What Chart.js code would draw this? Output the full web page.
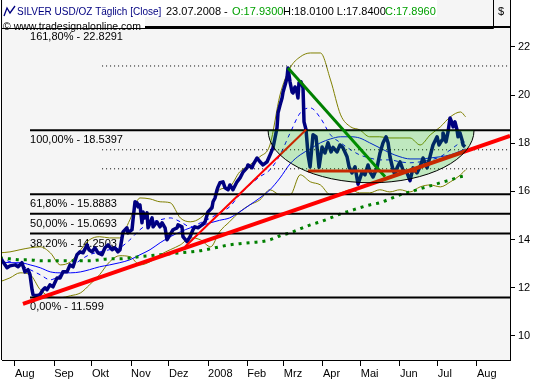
<!DOCTYPE html>
<html>
<head>
<meta charset="utf-8">
<script src="https://cdn.jsdelivr.net/npm/chart.js@4.4.1/dist/chart.umd.min.js"></script>
<style>
  html, body { margin: 0; padding: 0; background: #fff; }
  #wrap { width: 540px; height: 380px; }
</style>
</head>
<body>
<div id="wrap"><canvas id="chart" width="540" height="380"></canvas></div>
<script>
// x values are calendar days counted from 1 Aug 2007
const monthDays = [0, 31, 61, 92, 122, 153, 184, 213, 244, 274, 305, 335, 366];
const monthLabels = ["Aug", "Sep", "Okt", "Nov", "Dez", "2008", "Feb", "Mrz", "Apr", "Mai", "Jun", "Jul", "Aug"];
const yTicks = [10, 12, 14, 16, 18, 20, 22];

const priceDays = [
  -12, -9.5, -6.3, -4, 0, 2.4, 5.5, 7.9, 10.3, 11.9,
  13.5, 14.3, 17.4, 19.8, 22.2, 23.8, 25.4, 27.7, 30.1, 33.3,
  35.7, 38.0, 41.2, 43.6, 46.0, 49.1, 51.5, 53.9, 57.1, 58.6,
  61.0, 63.4, 65.8, 68.9, 71.3, 73.7, 76.9, 79.2, 81.6, 83.2,
  85.6, 88.7, 89.5, 92.7, 93.5, 95.1, 96.7, 97.5, 99.0, 100.6,
  101.4, 103.0, 104.6, 105.4, 108.6, 109.4, 112.5, 114.9, 116.5, 118.9,
  120.4, 122.8, 125.2, 128.4, 129.2, 132.3, 133.1, 136.3, 138.7, 141.0,
  142.6, 145.0, 148.2, 150.6, 152.9, 156.1, 156.9, 158.5, 160.1, 160.9,
  162.4, 164.8, 166.4, 168.8, 170.3, 172.7, 175.9, 178.3, 180.7, 183.8,
  184.6, 187.8, 188.6, 191.8, 194.1, 196.5, 199.7, 202.1, 204.4, 206.0,
  207.6, 208.4, 210.0, 211.6, 212.4, 214.0, 215.5, 216.3, 217.9, 219.5,
  220.3, 221.9, 223.5, 224.2, 225.0, 226.6, 228.2, 229.0, 230.6, 232.2,
  233.8, 236.1, 238.5, 240.9, 243.3, 245.6, 248.0, 250.4, 252.0, 255.1,
  257.5, 259.9, 263.1, 264.7, 267.0, 269.4, 271.8, 275.0, 277.3, 279.7,
  281.3, 283.7, 286.8, 289.2, 291.6, 294.0, 295.6, 297.1, 299.5, 301.1,
  302.7, 305.1, 307.4, 310.6, 313.0, 315.4, 318.5, 320.9, 323.3, 326.5,
  328.8, 331.2, 334.4, 336.0, 338.4, 339.1, 341.5, 343.1, 344.7, 346.3,
  347.1, 348.6, 350.2, 351.0, 352.6, 354.2, 355.0, 356.6
];
const close = [
  13.24, 13.08, 12.83, 12.91, 12.95, 12.87, 13.04, 12.66, 12.75, 12.54,
  11.92, 11.71, 11.67, 11.71, 11.92, 12.00, 11.92, 12.12, 12.04, 12.41,
  12.41, 12.66, 12.66, 12.95, 12.87, 13.37, 13.49, 13.45, 13.78, 13.58,
  13.49, 13.66, 13.45, 13.37, 13.66, 13.78, 13.58, 13.66, 13.49, 13.58,
  14.32, 14.49, 14.28, 14.41, 14.82, 15.57, 15.53, 15.36, 15.44, 14.70,
  15.15, 14.90, 15.11, 14.49, 14.90, 14.53, 14.74, 14.53, 14.70, 14.49,
  13.99, 14.20, 14.41, 14.49, 14.61, 14.53, 14.12, 13.91, 14.12, 14.41,
  14.53, 14.49, 14.61, 14.74, 15.15, 15.32, 15.57, 15.73, 16.07, 16.19,
  16.36, 16.40, 16.15, 16.07, 16.27, 16.07, 16.40, 16.56, 16.81, 16.98,
  17.10, 16.98, 17.10, 17.39, 17.23, 17.10, 17.23, 17.52, 17.81, 18.22,
  18.64, 19.26, 19.59, 19.88, 20.13, 20.42, 20.71, 21.13, 20.55, 20.13,
  20.09, 20.34, 20.09, 19.88, 20.51, 20.55, 20.30, 18.89, 18.56, 17.52,
  17.02, 18.35, 18.27, 17.00, 17.85, 17.60, 18.02, 17.64, 17.83, 17.64,
  17.93, 17.81, 17.44, 17.02, 16.77, 17.02, 16.30, 16.81, 16.69, 17.10,
  16.81, 16.60, 16.98, 17.60, 18.02, 18.27, 18.02, 17.44, 16.90, 16.69,
  16.98, 17.23, 16.90, 16.77, 16.45, 16.98, 16.77, 17.02, 17.39, 16.98,
  17.44, 17.93, 18.27, 17.93, 18.14, 18.43, 18.06, 18.47, 19.05, 18.85,
  18.68, 18.89, 18.56, 18.27, 18.43, 18.14, 17.93, 17.85
];

// indicator curves, read at these days
const maDays = [
  -12, -4, 4, 12, 20, 28, 36, 44, 52, 59,
  67, 75, 83, 91, 99, 107, 115, 123, 131, 139,
  147, 155, 162, 170, 178, 186, 194, 202, 210, 218,
  226, 234, 242, 250, 258, 266, 273, 281, 289, 297,
  305, 313, 321, 329, 337, 345, 353, 357
];
const maSlow = [
  13.08, 13.04, 13.04, 12.95, 12.83, 12.66, 12.62, 12.62, 12.66, 12.75,
  12.87, 12.95, 13.04, 13.16, 13.37, 13.58, 13.87, 14.12, 14.32, 14.49,
  14.57, 14.70, 14.80, 14.90, 15.15, 15.44, 15.73, 16.07, 16.56, 17.15,
  17.52, 17.77, 18.02, 18.18, 18.27, 18.27, 18.22, 18.02, 17.81, 17.60,
  17.44, 17.35, 17.35, 17.39, 17.44, 17.52, 17.68, 17.77
];
const maFast = [
  13.24, 13.08, 12.95, 12.75, 12.54, 12.33, 12.54, 12.83, 13.16, 13.37,
  13.49, 13.58, 13.66, 13.99, 14.41, 14.70, 14.82, 14.90, 14.74, 14.53,
  14.70, 14.90, 15.11, 15.36, 15.86, 16.27, 16.61, 16.90, 17.52, 18.43,
  19.26, 19.47, 19.05, 18.35, 18.02, 17.73, 17.52, 17.39, 17.31, 17.31,
  17.23, 17.19, 17.23, 17.31, 17.44, 17.73, 18.02, 18.06
];
const ma200 = [
  13.24, 13.20, 13.16, 13.16, 13.12, 13.12, 13.12, 13.12, 13.12, 13.12,
  13.16, 13.20, 13.20, 13.24, 13.29, 13.33, 13.37, 13.41, 13.45, 13.49,
  13.54, 13.62, 13.70, 13.78, 13.83, 13.87, 13.91, 13.99, 14.16, 14.28,
  14.45, 14.61, 14.74, 14.90, 15.07, 15.20, 15.32, 15.44, 15.53, 15.69,
  15.86, 15.98, 16.11, 16.23, 16.36, 16.48, 16.61, 16.65
];
const bandUp = [
  13.45, 13.49, 13.58, 13.66, 13.70, 13.45, 12.95, 13.08, 13.58, 13.99,
  14.12, 14.07, 14.07, 14.82, 15.73, 15.69, 15.57, 15.53, 14.90, 14.74,
  14.90, 15.36, 16.07, 16.19, 16.81, 17.10, 17.44, 17.93, 20.01, 21.13,
  21.59, 21.75, 21.75, 20.63, 19.18, 18.68, 18.56, 18.27, 18.27, 18.22,
  18.22, 18.22, 17.93, 18.35, 18.68, 19.10, 19.30, 19.10
];
const bandLow = [
  12.25, 12.41, 12.62, 12.54, 11.92, 11.63, 11.59, 11.67, 11.79, 12.12,
  12.54, 13.08, 13.33, 13.29, 12.95, 13.08, 13.37, 13.58, 13.78, 14.07,
  13.99, 13.70, 14.32, 14.74, 15.15, 15.44, 15.65, 16.07, 15.86, 15.86,
  16.69, 16.40, 16.27, 15.86, 15.94, 16.07, 15.94, 15.94, 16.07, 15.98,
  16.07, 15.98, 16.19, 16.27, 16.19, 16.40, 16.69, 16.90
];

// drawing tools
const fibValues = [22.8291, 18.5397, 15.8883, 15.0693, 14.2503, 11.599];
const fibLabels = ["161,80% - 22.8291", "100,00% - 18.5397", "61,80% - 15.8883",
                   "50,00% - 15.0693", "38,20% - 14.2503", "0,00% - 11.599"];
const fibStartDay = 11.9;
const dotLevels = [21.21, 17.73, 16.94];
const dotStartDay = 69;
const longTrendDays = [6.3, 392.2],   longTrendValues = [11.33, 18.31];
const shortTrendDays = [134.7, 230.6], shortTrendValues = [13.70, 18.56];
const downTrendDays = [216.3, 293.2],  downTrendValues = [21.13, 16.61];
const supportDays = [232, 318.5],      supportValues = [16.85, 16.85];
const zoneDays = [200.5, 363.7],       zoneValues = [18.5397, 16.36];

const X_MIN = -10.3, X_MAX = 392.2;
const FONT = "'Liberation Sans', Arial, sans-serif";

Chart.defaults.font.family = FONT;
Chart.defaults.font.size = 11;
Chart.defaults.color = "#000";

function pts(xs, ys){ return xs.map((x, i) => ({ x, y: ys[i] })); }

const datasets = [];
function add(data, style){
  datasets.push(Object.assign({
    data, pointRadius: 0, fill: false, borderJoinStyle: "round", tension: 0
  }, style));
}

// bottom layer first
add(pts(maDays, bandUp),  { borderColor: "#808000", borderWidth: 1, cubicInterpolationMode: "monotone" });
add(pts(maDays, bandLow), { borderColor: "#808000", borderWidth: 1, cubicInterpolationMode: "monotone" });
add(pts(maDays, maSlow),  { borderColor: "#0000ff", borderWidth: 1, cubicInterpolationMode: "monotone" });
add(pts(maDays, maFast),  { borderColor: "#0000ff", borderWidth: 1, borderDash: [4, 4], cubicInterpolationMode: "monotone" });
add(pts(maDays, ma200),   { borderColor: "#008000", borderWidth: 3, borderDash: [3, 5], borderCapStyle: "butt", cubicInterpolationMode: "monotone" });
add(pts(priceDays, close), { borderColor: "#000080", borderWidth: 3.5 });
for (const v of dotLevels){
  add(pts([dotStartDay, X_MAX], [v, v]), { borderColor: "#000", borderWidth: 1, borderDash: [1, 3] });
}
for (const v of fibValues){
  add(pts([fibStartDay, X_MAX], [v, v]), { borderColor: "#000", borderWidth: 2 });
}
add(pts(downTrendDays, downTrendValues),   { borderColor: "#008000", borderWidth: 3 });
add(pts(supportDays, supportValues),       { borderColor: "#ff0000", borderWidth: 3 });
add(pts(shortTrendDays, shortTrendValues), { borderColor: "#ff0000", borderWidth: 2 });
add(pts(longTrendDays, longTrendValues),   { borderColor: "#ff0000", borderWidth: 4 });
datasets.forEach((d, i) => { d.order = 1000 - i; });

const decor = {
  id: "decor",
  beforeDraw(chart){
    const { ctx, chartArea: a } = chart;
    ctx.save();
    ctx.fillStyle = "#fff";
    ctx.fillRect(0, 0, chart.width, chart.height);
    ctx.fillStyle = "#f5f5f5";
    ctx.fillRect(a.left, a.top, a.right - a.left, a.bottom - a.top);
    ctx.restore();
  },
  beforeDatasetsDraw(chart){
    const { ctx, scales: { x, y } } = chart;
    ctx.save();
    ctx.font = "11px " + FONT;
    ctx.fillStyle = "#000";
    ctx.textBaseline = "middle";
    fibValues.forEach((v, i) => {
      ctx.fillText(fibLabels[i], x.getPixelForValue(fibStartDay), y.getPixelForValue(v) + 10);
    });
    ctx.restore();
  },
  afterDatasetsDraw(chart){
    const { ctx, scales: { x, y } } = chart;
    const x0 = x.getPixelForValue(zoneDays[0]), x1 = x.getPixelForValue(zoneDays[1]);
    const cy = y.getPixelForValue(zoneValues[0]), by = y.getPixelForValue(zoneValues[1]);
    const cx = (x0 + x1) / 2, rx = (x1 - x0) / 2, ry = by - cy;
    ctx.save();
    ctx.beginPath();
    ctx.ellipse(cx, cy, rx, ry, 0, 0, Math.PI);
    ctx.closePath();
    ctx.fillStyle = "rgba(0,185,0,0.22)";
    ctx.fill();
    ctx.beginPath();
    ctx.ellipse(cx, cy, rx, ry, 0, 0, Math.PI);
    ctx.strokeStyle = "#000";
    ctx.lineWidth = 1;
    ctx.stroke();
    ctx.restore();
  },
  afterDraw(chart){
    const { ctx, chartArea: a } = chart;
    ctx.save();
    // left frame edge
    ctx.strokeStyle = "#000";
    ctx.lineWidth = 1;
    ctx.beginPath();
    ctx.moveTo(1.5, 0);
    ctx.lineTo(1.5, a.bottom);
    ctx.stroke();

    // title box
    ctx.fillStyle = "#fff";
    ctx.fillRect(3, 0, 434, 17);
    ctx.fillRect(3, 17, 142, 11);
    ctx.strokeStyle = "#000080";
    ctx.lineWidth = 1.3;
    ctx.beginPath();
    ctx.moveTo(4, 16); ctx.lineTo(7, 8); ctx.lineTo(10, 13); ctx.lineTo(15, 6);
    ctx.stroke();

    ctx.textBaseline = "alphabetic";
    ctx.font = "10px " + FONT;
    ctx.fillStyle = "#000080";
    ctx.fillText("SILVER USD/OZ Täglich [Close]", 17, 15);
    ctx.font = "11px " + FONT;
    ctx.fillStyle = "#000";
    ctx.fillText("23.07.2008 -", 166, 15);
    ctx.fillStyle = "#00a000";
    ctx.fillText("O:17.9300", 232, 15);
    ctx.fillStyle = "#000";
    ctx.fillText("H:18.0100 L:17.8400", 283, 15);
    ctx.fillStyle = "#00a000";
    ctx.fillText("C:17.8960", 385, 15);
    ctx.fillStyle = "#000";
    ctx.font = "10.5px " + FONT;
    ctx.fillText("© www.tradesignalonline.com", 3, 29.5);
    ctx.font = "11px " + FONT;
    ctx.fillText("$", 498, 15);

    ctx.strokeStyle = "#000";
    ctx.lineWidth = 1;
    ctx.beginPath();
    ctx.moveTo(1, 28.5); ctx.lineTo(493.5, 28.5);
    ctx.moveTo(493.5, 0); ctx.lineTo(493.5, 28.5);
    ctx.stroke();
    ctx.restore();
  }
};

new Chart(document.getElementById("chart"), {
  type: "line",
  data: { datasets },
  options: {
    responsive: false,
    maintainAspectRatio: false,
    devicePixelRatio: 1,
    animation: false,
    events: [],
    layout: { padding: { left: 2, top: 0, right: 0, bottom: 0 } },
    plugins: { legend: { display: false }, tooltip: { enabled: false } },
    scales: {
      x: {
        type: "linear",
        min: X_MIN,
        max: X_MAX,
        afterBuildTicks: s => { s.ticks = monthDays.map(v => ({ value: v })); },
        afterFit: s => { s.height = 20; s.paddingLeft = 0; s.paddingRight = 0; },
        ticks: {
          autoSkip: false, maxRotation: 0, align: "start", padding: 1,
          callback: v => monthLabels[monthDays.indexOf(v)]
        },
        grid: { drawOnChartArea: false, drawTicks: true, tickLength: 6, color: "#000" },
        border: { display: true, color: "#000", width: 1 }
      },
      y: {
        type: "linear",
        position: "right",
        min: 9.0,
        max: 23.95,
        afterBuildTicks: s => { s.ticks = yTicks.map(v => ({ value: v })); },
        afterFit: s => { s.width = 30; s.paddingTop = 0; s.paddingBottom = 0; },
        ticks: { padding: 3, callback: v => String(v) },
        grid: { drawOnChartArea: false, drawTicks: true, tickLength: 5, color: "#000" },
        border: { display: true, color: "#000", width: 1 }
      }
    }
  },
  plugins: [decor]
});
</script>
</body>
</html>
